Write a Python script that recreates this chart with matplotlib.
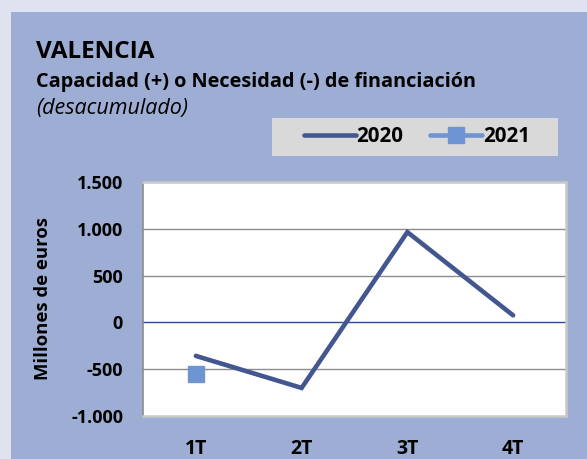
import matplotlib
matplotlib.use('Agg')
import matplotlib.pyplot as plt
from matplotlib.patches import Rectangle
from matplotlib.lines import Line2D

## Data
quarters = ['1T', '2T', '3T', '4T']
values_2020 = [-358, -700, 965, 75]
values_2021 = [-555]
yticks = [-1000, -500, 0, 500, 1000, 1500]
ytick_labels = ['-1.000', '-500', '0', '500', '1.000', '1.500']

## Colours
outer_bg = '#dfe3ef'
panel_bg = '#9eadd3'
legend_bg = '#d9d9d9'
c2020 = '#44568f'
c2021 = '#6f94d2'

plt.rcParams['font.family'] = ['Open Sans', 'DejaVu Sans']

W, H = 587, 459
fig = plt.figure(figsize=(W/100, H/100), dpi=100, facecolor=outer_bg)

# blue panel behind everything
fig.patches.append(Rectangle((11/W, 0), 1 - 11/W, 1 - 12/H, transform=fig.transFigure,
                             facecolor=panel_bg, edgecolor='none', zorder=-2))
# legend box
fig.patches.append(Rectangle((272/W, 1 - 156/H), 286/W, 38/H, transform=fig.transFigure,
                             facecolor=legend_bg, edgecolor='none', zorder=-1))

# titles
fig.text(36/W, 1 - 58/H, 'VALENCIA', fontsize=17.5, fontweight='bold', va='baseline')
fig.text(36/W, 1 - 87/H, 'Capacidad (+) o Necesidad (-) de financiación',
         fontsize=14.3, fontweight='bold', va='baseline')
fig.text(36/W, 1 - 114/H, '(desacumulado)', fontsize=15.5, style='italic', va='baseline')

ax = fig.add_axes([143/W, 1 - 416/H, 423/W, 234/H])
ax.set_facecolor('white')
x = list(range(len(quarters)))

for v in yticks:
    if v in (-1000, 1500):
        continue
    if v == 0:
        ax.axhline(v, color='#2f4a8f', lw=1.0, zorder=1)
    else:
        ax.axhline(v, color='#8c8c8c', lw=1.0, zorder=1)

ax.plot(x, values_2020, color=c2020, lw=3.3, solid_capstyle='round',
        solid_joinstyle='miter', zorder=3)
ax.plot(x[:len(values_2021)], values_2021, color=c2021, lw=3, marker='s',
        markersize=12.2, linestyle='none', zorder=3)

ax.set_xlim(-0.5, len(quarters) - 0.5)
ax.set_ylim(-1000, 1500)
ax.set_xticks(x)
ax.set_xticklabels(quarters, fontsize=14, fontweight='bold')
ax.set_yticks(yticks)
ax.set_yticklabels(ytick_labels, fontsize=13, fontweight='bold')
ax.tick_params(axis='x', length=0, pad=16.5)
ax.tick_params(axis='y', length=0, pad=14.4)
ax.set_ylabel('Millones de euros', fontsize=13.3, fontweight='bold', labelpad=14)

for side in ('top', 'right', 'bottom'):
    ax.spines[side].set_color('#c8c8c8')
    ax.spines[side].set_linewidth(1.8)
ax.spines['left'].set_color('#8c8c8c')
ax.spines['left'].set_linewidth(1.2)

handles = [Line2D([], [], color=c2020, lw=3.3, solid_capstyle='round'),
           Line2D([], [], color=c2021, lw=3.3, marker='s', markersize=11,
                  solid_capstyle='round')]
fig.legend(handles, ['2020', '2021'], loc='center', bbox_to_anchor=(417/W, 1 - 137/H),
           ncol=2, frameon=False, prop={'weight': 'bold', 'size': 14.8},
           handlelength=2.5, handletextpad=0.05, columnspacing=1.3)

fig.savefig('out.png', dpi=100, facecolor=outer_bg)
